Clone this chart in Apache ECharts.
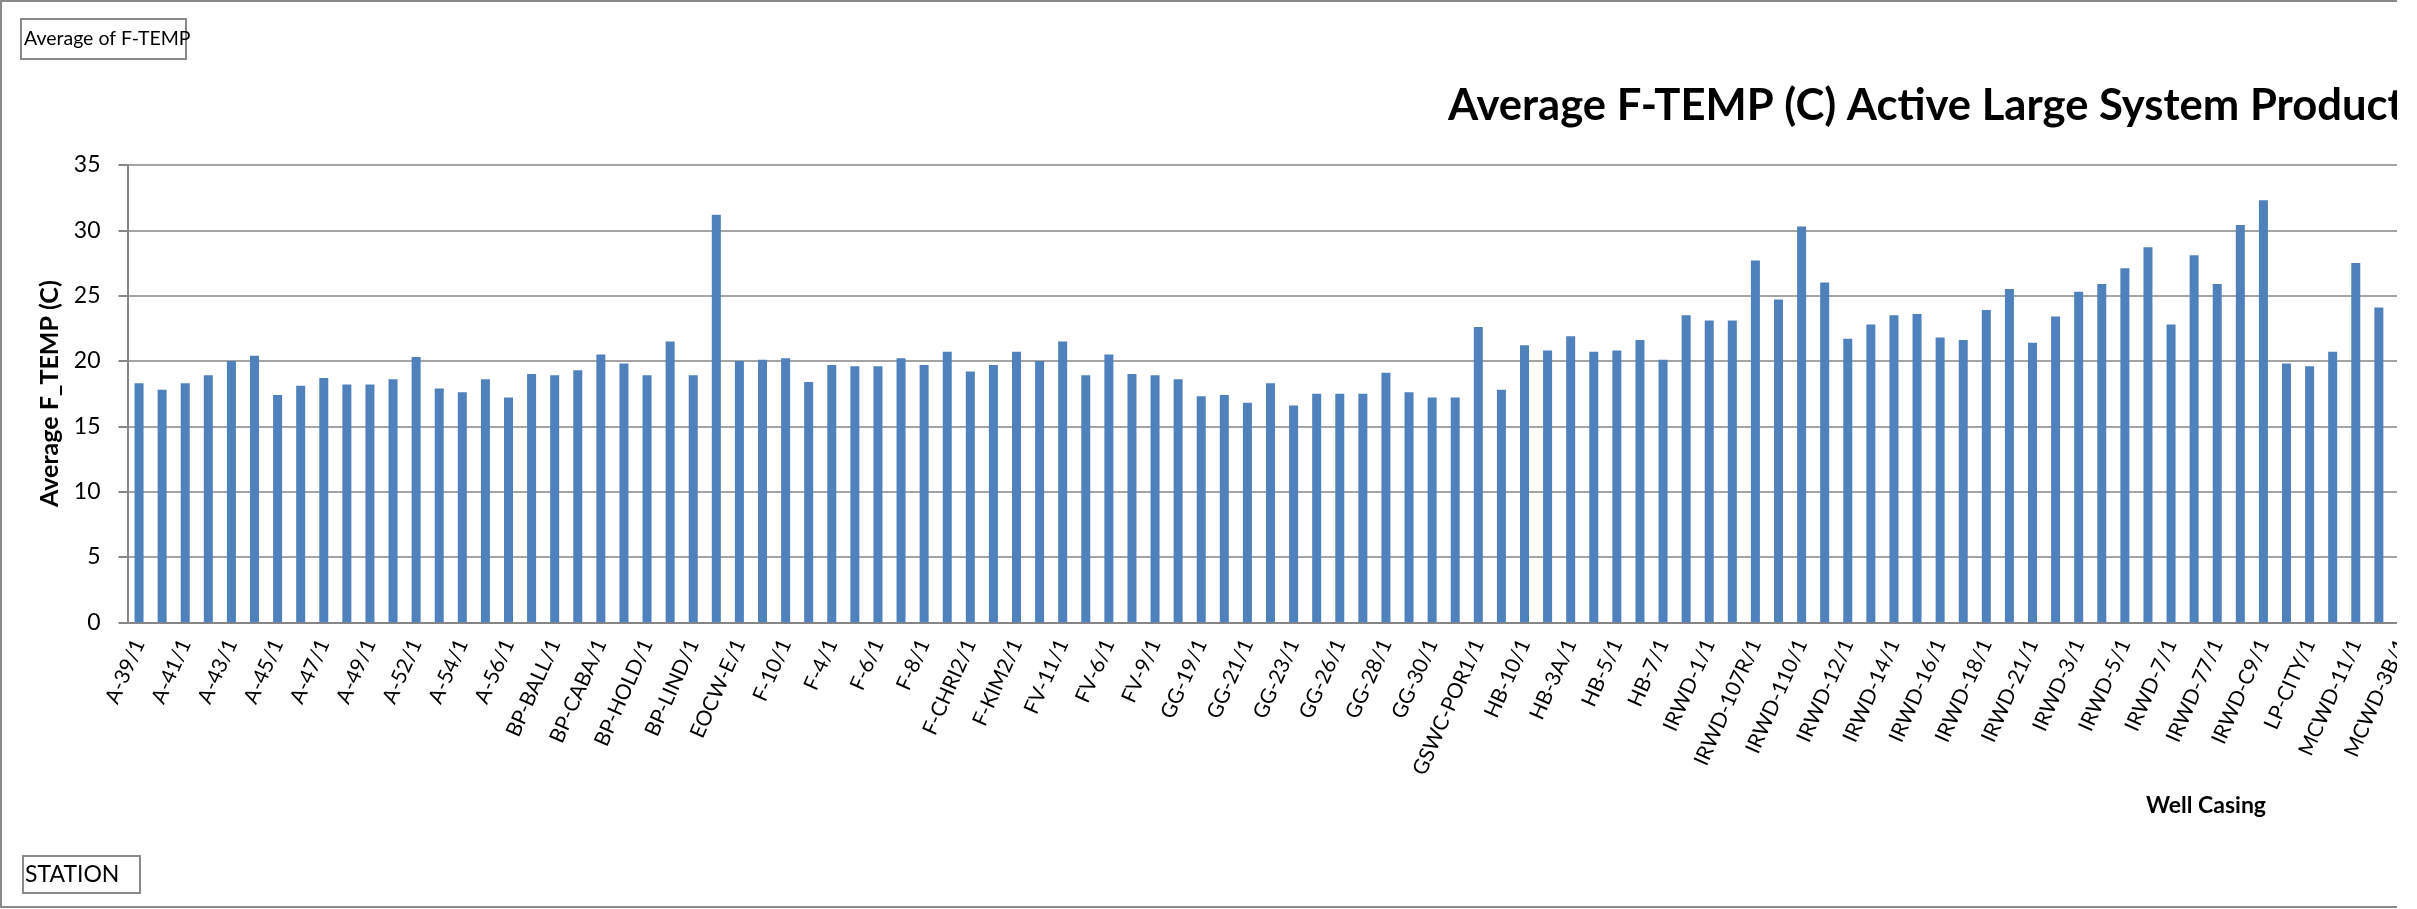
<!DOCTYPE html>
<html>
<head>
<meta charset="utf-8">
<title>Average F-TEMP</title>
<script src="https://cdn.jsdelivr.net/npm/echarts@6/dist/echarts.min.js"></script>
<style>
	html, body { margin: 0; padding: 0; background: #fff; overflow: hidden; }
	/* the original chart is cut off on the right, so clip the page there */
	.clipBox { position: absolute; left: 0; top: 0; width: 2397px; height: 909px; overflow: hidden; }
	#chartBox { width: 2417px; height: 909px; }
</style>
</head>
<body>
<div class="clipBox"><div id="chartBox"></div></div>
<script>
// station names (only every other one is printed on the axis)
var stations = [
	'A-39/1', 'A-40/1', 'A-41/1', 'A-42/1', 'A-43/1', 'A-44/1', 'A-45/1', 'A-46/1', 'A-47/1', 'A-48/1',
	'A-49/1', 'A-50/1', 'A-52/1', 'A-53/1', 'A-54/1', 'A-55/1', 'A-56/1', 'BP-ANAH/1', 'BP-BALL/1', 'BP-BIRC/1',
	'BP-CABA/1', 'BP-CAMP/1', 'BP-HOLD/1', 'BP-KOLL/1', 'BP-LIND/1', 'EOCW-C/1', 'EOCW-E/1', 'F-1/1', 'F-10/1', 'F-3/1',
	'F-4/1', 'F-5/1', 'F-6/1', 'F-7/1', 'F-8/1', 'F-9/1', 'F-CHRI2/1', 'F-DEL/1', 'F-KIM2/1', 'FV-10/1',
	'FV-11/1', 'FV-5/1', 'FV-6/1', 'FV-7/1', 'FV-9/1', 'GG-18/1', 'GG-19/1', 'GG-20/1', 'GG-21/1', 'GG-22/1',
	'GG-23/1', 'GG-25/1', 'GG-26/1', 'GG-27/1', 'GG-28/1', 'GG-29/1', 'GG-30/1', 'GG-31/1', 'GSWC-POR1/1', 'HB-1/1',
	'HB-10/1', 'HB-2/1', 'HB-3A/1', 'HB-4/1', 'HB-5/1', 'HB-6/1', 'HB-7/1', 'HB-8/1', 'IRWD-1/1', 'IRWD-106/1',
	'IRWD-107R/1', 'IRWD-108/1', 'IRWD-110/1', 'IRWD-11/1', 'IRWD-12/1', 'IRWD-13/1', 'IRWD-14/1', 'IRWD-15/1', 'IRWD-16/1', 'IRWD-17/1',
	'IRWD-18/1', 'IRWD-2/1', 'IRWD-21/1', 'IRWD-22/1', 'IRWD-3/1', 'IRWD-4/1', 'IRWD-5/1', 'IRWD-6/1', 'IRWD-7/1', 'IRWD-76/1',
	'IRWD-77/1', 'IRWD-78/1', 'IRWD-C9/1', 'LAKE-1/1', 'LP-CITY/1', 'MCWD-1/1', 'MCWD-11/1', 'MCWD-2/1', 'MCWD-3B/1'
];

// average F-TEMP (C) per station
var avgTemp = [
	18.3, 17.8, 18.3, 18.9, 20.0, 20.4, 17.4, 18.1, 18.7, 18.2,
	18.2, 18.6, 20.3, 17.9, 17.6, 18.6, 17.2, 19.0, 18.9, 19.3,
	20.5, 19.8, 18.9, 21.5, 18.9, 31.2, 20.0, 20.1, 20.2, 18.4,
	19.7, 19.6, 19.6, 20.2, 19.7, 20.7, 19.2, 19.7, 20.7, 20.0,
	21.5, 18.9, 20.5, 19.0, 18.9, 18.6, 17.3, 17.4, 16.8, 18.3,
	16.6, 17.5, 17.5, 17.5, 19.1, 17.6, 17.2, 17.2, 22.6, 17.8,
	21.2, 20.8, 21.9, 20.7, 20.8, 21.6, 20.1, 23.5, 23.1, 23.1,
	27.7, 24.7, 30.3, 26.0, 21.7, 22.8, 23.5, 23.6, 21.8, 21.6,
	23.9, 25.5, 21.4, 23.4, 25.3, 25.9, 27.1, 28.7, 22.8, 28.1,
	25.9, 30.4, 32.3, 19.8, 19.6, 20.7, 27.5, 24.1, null
];

var yTicks = { min: 0, max: 35, step: 5 };

var fontName = 'Lato, "Liberation Sans", sans-serif';
var gridGray = '#868686';

var myChart = echarts.init(document.getElementById('chartBox'), null, { renderer: 'canvas' });
myChart.setOption({
	backgroundColor: '#fff',
	animation: false,
	title: {
		text: 'Average F-TEMP (C) Active Large System Production Wells',
		left: 1443,
		top: 79,
		textStyle: { fontFamily: fontName, fontSize: 43.6, fontWeight: 'bold', color: '#000' }
	},
	grid: {
		left: 127.5,
		top: 165,
		right: 3.5,
		bottom: 286.7,
		containLabel: false
	},
	xAxis: {
		type: 'category',
		data: stations,
		axisLine: { lineStyle: { color: gridGray, width: 2 } },
		axisTick: { show: false },
		axisLabel: {
			interval: 1,
			rotate: 66,
			margin: 18,
			fontFamily: fontName,
			fontSize: 21,
			color: '#000'
		}
	},
	yAxis: {
		type: 'value',
		min: yTicks.min,
		max: yTicks.max,
		interval: yTicks.step,
		name: 'Average F_TEMP (C)',
		nameLocation: 'middle',
		nameRotate: 90,
		nameGap: 62,
		nameTextStyle: { fontFamily: fontName, fontSize: 25, fontWeight: 'bold', color: '#000' },
		axisLine: { show: true, lineStyle: { color: gridGray, width: 2 } },
		axisTick: { show: true, length: 9, lineStyle: { color: gridGray, width: 2 } },
		axisLabel: { margin: 27, fontFamily: fontName, fontSize: 23, color: '#000' },
		splitLine: { lineStyle: { color: gridGray, width: 1.5 } }
	},
	series: [
		{
			name: 'Average of F-TEMP',
			type: 'bar',
			data: avgTemp,
			barWidth: 9,
			itemStyle: { color: '#4F81BD' }
		}
	],
	graphic: [
		// outer chart frame (right side falls outside the clip)
		{
			type: 'rect',
			shape: { x: 1, y: 1, width: 2414, height: 906 },
			style: { fill: null, stroke: '#8a8a8a', lineWidth: 2 },
			silent: true
		},
		// pivot field buttons
		{
			type: 'group',
			left: 20,
			top: 18,
			children: [
				{ type: 'rect', shape: { x: 0, y: 0, width: 165, height: 40 }, style: { fill: '#fff', stroke: '#8a8a8a', lineWidth: 2 } },
				{ type: 'text', x: 3, y: 20, style: { text: 'Average of F-TEMP', font: '19.5px ' + fontName, fill: '#000', verticalAlign: 'middle' } }
			]
		},
		{
			type: 'group',
			left: 22,
			top: 855,
			children: [
				{ type: 'rect', shape: { x: 0, y: 0, width: 117, height: 37 }, style: { fill: '#fff', stroke: '#8a8a8a', lineWidth: 2 } },
				{ type: 'text', x: 2, y: 19, style: { text: 'STATION', font: '23px ' + fontName, fill: '#000', verticalAlign: 'middle' } }
			]
		},
		// x axis title
		{
			type: 'text',
			x: 2206,
			y: 806,
			style: { text: 'Well Casing', font: 'bold 23px ' + fontName, fill: '#000', align: 'center', verticalAlign: 'middle' }
		}
	]
});
</script>
</body>
</html>
